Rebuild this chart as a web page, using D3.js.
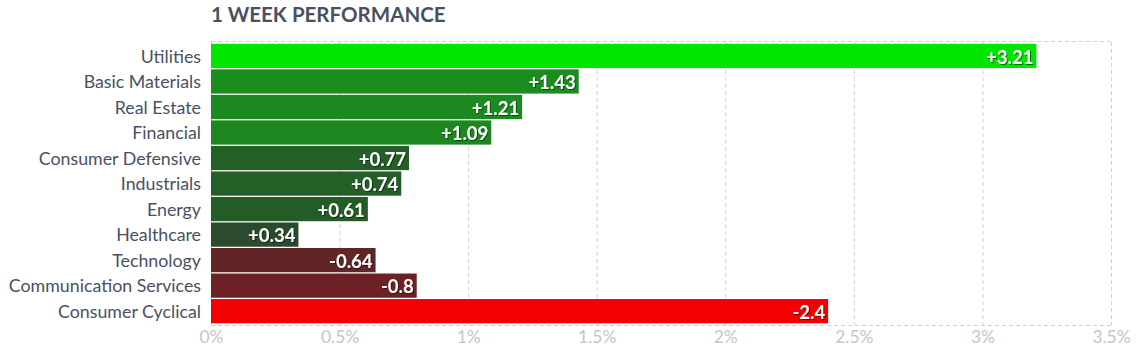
<!DOCTYPE html>
<html><head><meta charset="utf-8">
<script src="https://cdn.jsdelivr.net/npm/d3@7"></script>
<style>
html,body{margin:0;padding:0;background:#fff;}
svg{display:block;font-family:Lato, "Open Sans", sans-serif;}
</style></head>
<body>
<svg id="c" width="1137" height="353"></svg>
<script>
const categories = ["Utilities","Basic Materials","Real Estate","Financial","Consumer Defensive","Industrials","Energy","Healthcare","Technology","Communication Services","Consumer Cyclical"];
const values = [3.21,1.43,1.21,1.09,0.77,0.74,0.61,0.34,-0.64,-0.8,-2.4];
const barColors = ["#00e600","#1b8d1f","#1c8a20","#1d861f","#235f27","#235f27","#245c28","#2c4a2e","#622527","#6e2124","#f50000"];
const tickValues = [0,0.5,1,1.5,2,2.5,3,3.5];
const tickLabels = ["0%","0.5%","1%","1.5%","2%","2.5%","3%","3.5%"];
const title = "1 WEEK PERFORMANCE";

const svg = d3.select("#c");
const pL = 211, pR = 1111, pT = 42, pB = 325;
const x = d3.scaleLinear().domain([0,3.5]).range([pL,pR]);
const y = d3.scaleBand().domain(categories).range([43.3,323.8]).paddingInner(0.05).paddingOuter(0.02);

const defs = svg.append("defs");
const f = defs.append("filter").attr("id","sh").attr("x","-20%").attr("y","-20%").attr("width","140%").attr("height","140%");
f.append("feDropShadow").attr("dx",1).attr("dy",1).attr("stdDeviation",0.6).attr("flood-color","#000").attr("flood-opacity",0.5);

svg.append("text").attr("x",211).attr("y",22).attr("fill","#4a5061")
  .attr("font-size",20.5).attr("font-weight","bold").text(title);

// grid
const g = svg.append("g");
g.selectAll("line.v").data(tickValues.slice(1)).join("line")
  .attr("x1",d=>x(d)+0.5).attr("x2",d=>x(d)+0.5).attr("y1",pT).attr("y2",pB)
  .attr("stroke","#d0d0d4").attr("stroke-dasharray","4,3");
g.append("line").attr("x1",pL).attr("x2",pR).attr("y1",pT-0.5).attr("y2",pT-0.5)
  .attr("stroke","#d0d0d4").attr("stroke-dasharray","4,3");
g.append("line").attr("x1",pL).attr("x2",pR).attr("y1",pB+0.5).attr("y2",pB+0.5)
  .attr("stroke","#d0d0d4").attr("stroke-dasharray","4,3");
g.append("line").attr("x1",pL+0.5).attr("x2",pL+0.5).attr("y1",pT).attr("y2",pB)
  .attr("stroke","#d0d0d4").attr("stroke-dasharray","4,3");

// x axis labels
const xAxis = d3.axisBottom(x).tickValues(tickValues).tickFormat((d,i)=>tickLabels[i]).tickSize(0).tickPadding(4);
const ax = svg.append("g").attr("transform",`translate(0,${pB+2})`).call(xAxis);
ax.select(".domain").remove();
ax.selectAll("text").attr("font-size",17.4).attr("fill","#c2c5cc").attr("font-family","Lato, sans-serif");

// bars
svg.selectAll("rect.bar").data(categories).join("rect")
  .attr("x",pL).attr("y",d=>y(d)).attr("height",y.bandwidth())
  .attr("width",(d,i)=>x(Math.abs(values[i]))-pL)
  .attr("fill",(d,i)=>barColors[i]);

// category labels
const yAxis = d3.axisLeft(y).tickSize(0).tickPadding(10);
const ay = svg.append("g").attr("transform",`translate(${pL},1)`).call(yAxis);
ay.select(".domain").remove();
ay.selectAll("text").attr("font-size",17.8).attr("fill","#4a5063").attr("font-family","Lato, sans-serif");

// value labels
svg.selectAll("text.val").data(categories).join("text")
  .attr("class","val")
  .attr("x",(d,i)=>x(Math.abs(values[i]))-3)
  .attr("y",d=>y(d)+y.bandwidth()/2+1)
  .attr("dy","0.36em").attr("text-anchor","end")
  .attr("font-size",18.5).attr("font-weight","bold").attr("fill","#fff")
  .attr("filter","url(#sh)")
  .text((d,i)=>(values[i]>0?"+":"")+values[i]);
</script>
</body></html>
